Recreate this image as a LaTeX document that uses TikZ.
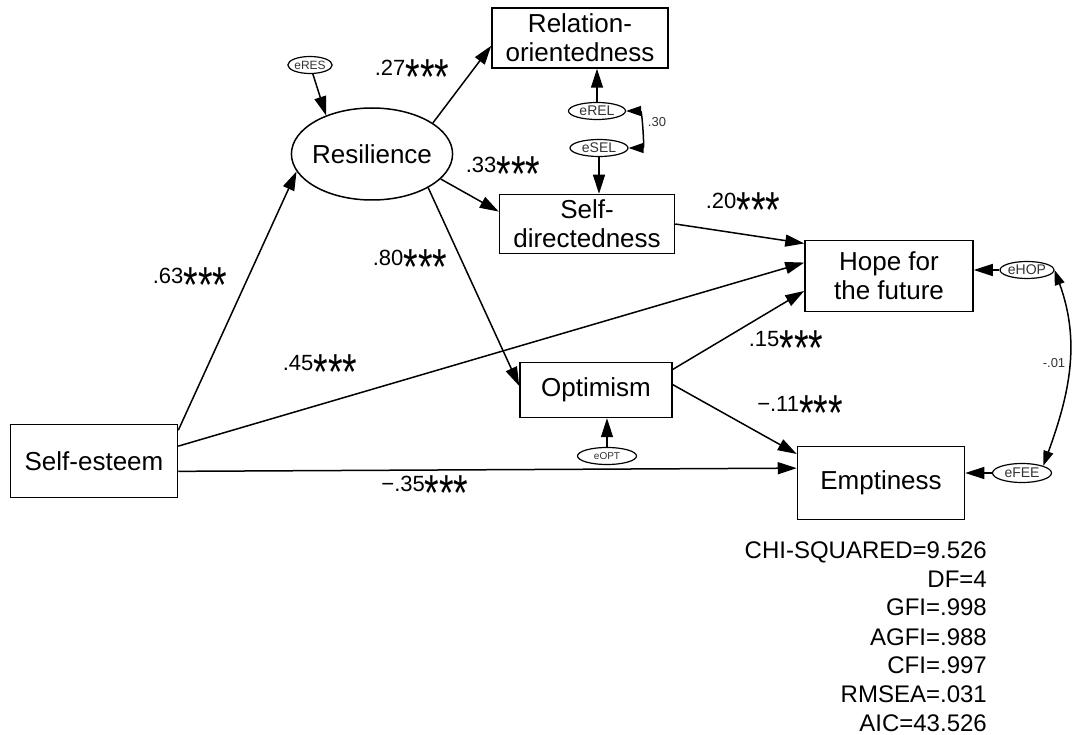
\documentclass[tikz,border=0pt]{standalone}
\usepackage{graphicx}
\usepackage{fontspec}
\setmainfont{Liberation Sans}
\usetikzlibrary{shapes.geometric,arrows.meta}
\newcommand{\sig}{\raisebox{-0.87em}{\scalebox{1.7}[2.3]{***}}}
\tikzset{
BOX/.style={draw=black,line width=1.5pt,inner sep=0pt,align=center,font=\fontsize{26}{29}\selectfont},
LATENT/.style={BOX,ellipse},
ERR/.style={ellipse,draw=black,line width=1.2pt,inner sep=0pt,minimum height=17pt,font=\fontsize{14}{14}\selectfont,text=black!80},
PATH/.style={draw=black,line width=1.5pt,-{Triangle[length=19pt,width=12pt]}},
COV/.style={draw=black,line width=1.5pt,{Triangle[length=15pt,width=10pt]}-{Triangle[length=15pt,width=10pt]}},
COEF/.style={font=\fontsize{22}{22}\selectfont},
NOTE/.style={font=\fontsize{13}{13}\selectfont,text=black!80},
FITSTAT/.style={anchor=base east,inner sep=0pt,font=\fontsize{24}{24}\selectfont},
}
\begin{document}
\begin{tikzpicture}[x=1pt,y=-1pt]
	\useasboundingbox (0,0) rectangle (1072,735);
	% observed and latent variables
	\node[BOX,minimum width=167pt,minimum height=73pt] (selfest) at (94,461) {Self-esteem};
	\node[LATENT,minimum width=161pt,minimum height=92pt,inner xsep=-3pt] (resil) at (372,154) {Resilience};
	\node[BOX,minimum width=176pt,minimum height=60pt] (relori) at (580,38) {Relation-\\orientedness};
	\node[BOX,minimum width=175pt,minimum height=59pt] (selfdir) at (587,224) {Self-\\directedness};
	\node[BOX,minimum width=152pt,minimum height=55pt] (optim) at (596,390) {Optimism};
	\node[BOX,minimum width=168pt,minimum height=71pt] (hope) at (889,276) {Hope for\\the future};
	\node[BOX,minimum width=167pt,minimum height=73pt] (empt) at (881,483) {Emptiness};
	% error terms
	\node[ERR,minimum width=44pt,font=\fontsize{12}{12}\selectfont] (eRES) at (310,65) {eRES};
	\node[ERR,minimum width=57pt] (eREL) at (597,111) {eREL};
	\node[ERR,minimum width=58pt] (eSEL) at (599,148) {eSEL};
	\node[ERR,minimum width=59pt,font=\fontsize{10}{10}\selectfont] (eOPT) at (607,456) {eOPT};
	\node[ERR,minimum width=53pt] (eHOP) at (1027,270) {eHOP};
	\node[ERR,minimum width=59pt,minimum height=19pt] (eFEE) at (1022,473) {eFEE};
	% paths
	\draw[PATH] (selfest.20) -- (resil.193);
	\draw[PATH] (selfest.10) -- (hope.171);
	\draw[PATH] (selfest.-7) -- (empt.170);
	\draw[PATH] (resil.27) -- (relori.185);
	\draw[PATH] (resil.-20) -- (selfdir.172);
	\draw[PATH] (resil.-31) -- (optim.177);
	\draw[PATH] (selfdir.east) -- (hope.159);
	\draw[PATH] (optim.15) -- (hope.190);
	\draw[PATH] (optim.4) -- (empt.161);
	\draw[PATH] (eRES) -- (resil.140);
	\draw[PATH] (eREL) -- (eREL |- relori.south);
	\draw[PATH] (eSEL) -- (eSEL |- selfdir.north);
	\draw[PATH] (eOPT) -- (eOPT |- optim.south);
	\draw[PATH] (eHOP) -- (eHOP -| hope.east);
	\draw[PATH] (eFEE) -- (eFEE -| empt.east);
	\draw[COV] (eREL.east) to[out=0,in=0,looseness=1.1] (eSEL.east);
	\draw[COV] (eHOP.east) to[out=-70,in=70] (eFEE.north east);
	% coefficients
	\node[COEF] (c63) at (190,285) {.63\sig};
	\node[COEF] (c27) at (412,77) {.27\sig};
	\node[COEF] (c33) at (503,174) {.33\sig};
	\node[COEF] (c80) at (410,267) {.80\sig};
	\node[COEF] (c45) at (320,372) {.45\sig};
	\node[COEF] (c20) at (743,210) {.20\sig};
	\node[COEF] (c15) at (786,348) {.15\sig};
	\node[COEF] (c11) at (800,413) {−.11\sig};
	\node[COEF] (c35) at (425,493) {−.35\sig};
	\node[NOTE] (r30) at (657,122) {.30};
	\node[NOTE] (r01) at (1054,363) {-.01};
	% fit indices
	\node[FITSTAT] (chisq) at (987,558) {CHI-SQUARED=9.526};
	\node[FITSTAT] (df) at (987,587) {DF=4};
	\node[FITSTAT] (gfi) at (987,615) {GFI=.998};
	\node[FITSTAT] (agfi) at (987,645) {AGFI=.988};
	\node[FITSTAT] (cfi) at (987,673) {CFI=.997};
	\node[FITSTAT] (rmsea) at (987,702) {RMSEA=.031};
	\node[FITSTAT] (aic) at (987,731) {AIC=43.526};
\end{tikzpicture}
\end{document}
